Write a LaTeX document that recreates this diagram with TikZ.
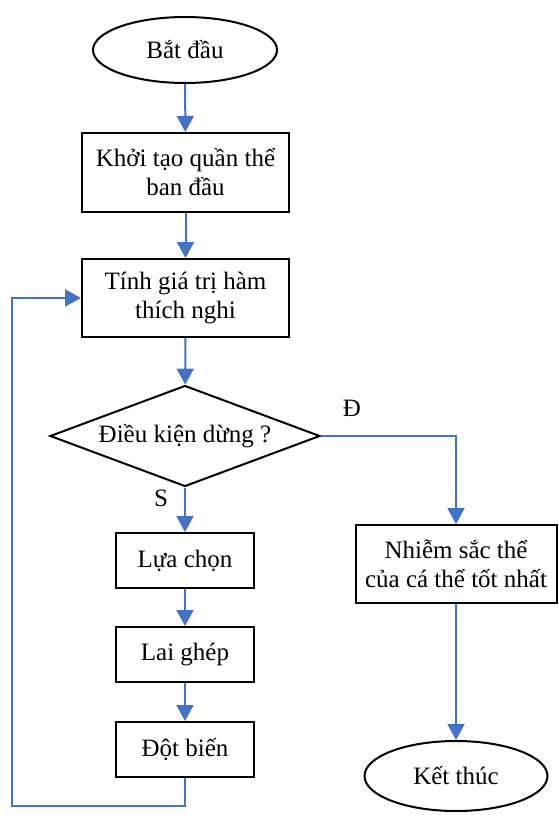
\documentclass[tikz,border=0pt]{standalone}
\usepackage{fontspec}
\setmainfont{Liberation Serif}
\usetikzlibrary{shapes.geometric,arrows.meta}

\definecolor{lineblue}{HTML}{4472C4}

\begin{document}
\begin{tikzpicture}[x=1pt,y=-1pt,
		font=\fontsize{25}{29}\selectfont,
		term/.style={draw,ellipse,line width=2pt,minimum width=184pt,minimum height=66pt,inner sep=0pt},
		stepbox/.style={draw,rectangle,line width=2pt,align=center,inner sep=0pt},
		test/.style={draw,diamond,line width=2pt,aspect=2.67,minimum width=270pt,minimum height=101pt,inner sep=0pt},
		flow/.style={draw=lineblue,line width=2pt,-{Triangle[length=16pt,width=17pt]}}]
		\useasboundingbox (0,0) rectangle (558,816);
		
		\node[term] (start) at (185,50) {Bắt đầu};
		\node[stepbox,minimum width=207pt,minimum height=79pt] (init) at (185.5,172.5) {Khởi tạo quần thể\\ban đầu};
		\node[stepbox,minimum width=207pt,minimum height=78pt] (fit) at (185.5,298) {Tính giá trị hàm\\thích nghi};
		\node[test] (cond) at (185,436) {Điều kiện dừng ?};
		
		\node[stepbox,minimum width=138pt,minimum height=55pt] (sel) at (185,560.5) {Lựa chọn};
		\node[stepbox,minimum width=138pt,minimum height=55pt] (cross) at (185,654.5) {Lai ghép};
		\node[stepbox,minimum width=138pt,minimum height=55pt] (mut) at (185,749.5) {Đột biến};
		
		\node[stepbox,minimum width=201pt,minimum height=78pt] (best) at (456,564) {Nhiễm sắc thể\\của cá thể tốt nhất};
		\node[term,minimum width=183pt,minimum height=70pt] (end) at (456,776) {Kết thúc};
		
		\node (lbD) at (352,408) {Đ};
		\node (lbS) at (161,498) {S};
		\coordinate (loop) at (12,806);
		
		\draw[flow] (start) -- (init);
		\draw[flow] (init) -- (fit);
		\draw[flow] (fit) -- (cond);
		\draw[flow] (cond.south) -- (sel);
		\draw[flow] (sel) -- (cross);
		\draw[flow] (cross) -- (mut);
		\draw[flow] (mut.south) |- (loop) |- (fit.west);
		\draw[flow] (cond.east) -| (best.north);
		\draw[flow] (best) -- (end);
		
\end{tikzpicture}
\end{document}
